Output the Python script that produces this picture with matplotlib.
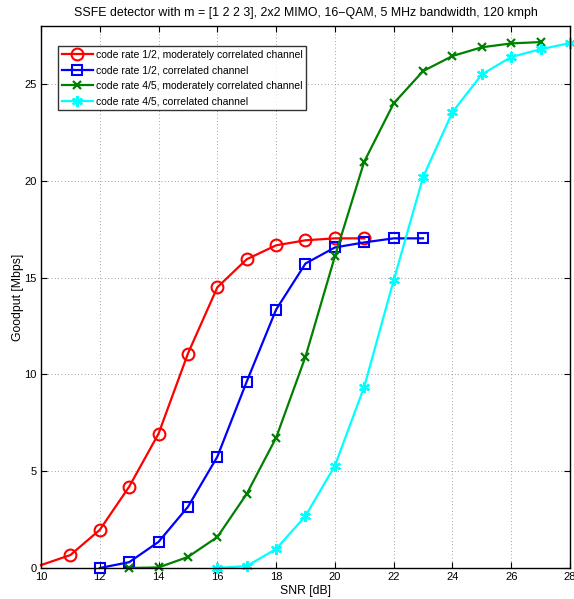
import numpy as np
import matplotlib
matplotlib.use("Agg")
import matplotlib.pyplot as plt

plt.rcParams['font.family'] = ['Liberation Sans', 'DejaVu Sans']

snr_r = [10, 11, 12, 13, 14, 15, 16, 17, 18, 19, 20, 21]
gp_r = [0.15, 0.67, 1.97, 4.2, 6.94, 11.08, 14.5, 15.95, 16.67, 16.93, 17.03, 17.03]

snr_b = [12, 13, 14, 15, 16, 17, 18, 19, 20, 21, 22, 23]
gp_b = [0.0, 0.3, 1.35, 3.16, 5.75, 9.63, 13.35, 15.73, 16.56, 16.82, 17.03, 17.03]

snr_g = [13, 14, 15, 16, 17, 18, 19, 20, 21, 22, 23, 24, 25, 26, 27]
gp_g = [0.0, 0.03, 0.57, 1.6, 3.83, 6.73, 10.92, 16.1, 21.0, 24.0, 25.67, 26.45, 26.9, 27.1, 27.17]

snr_c = [16, 17, 18, 19, 20, 21, 22, 23, 24, 25, 26, 27, 28]
gp_c = [0.0, 0.1, 0.98, 2.69, 5.28, 9.37, 14.86, 20.19, 23.55, 25.5, 26.4, 26.8, 27.12]

labels = ['code rate 1/2, moderately correlated channel',
          'code rate 1/2, correlated channel',
          'code rate 4/5, moderately correlated channel',
          'code rate 4/5, correlated channel']

fig = plt.figure(figsize=(5.74, 5.99), dpi=100)
ax = fig.add_axes([41/574, 31/599, 529/574, 542/599])

ax.plot(snr_r, gp_r, color='red', marker='o', ms=8.5, mfc='none', mew=1.5, lw=1.6,
        label=labels[0], clip_on=False, markevery=slice(1, None))
ax.plot(snr_b, gp_b, color='blue', marker='s', ms=7, mfc='none', mew=1.5, lw=1.6,
        label=labels[1], clip_on=False)
ax.plot(snr_g, gp_g, color='green', marker='x', ms=6, mew=1.6, lw=1.6,
        label=labels[2], clip_on=False)
ax.plot(snr_c, gp_c, color='cyan', marker=(6, 2, 0), ms=8, mew=1.6, lw=1.6,
        label=labels[3], clip_on=False)

ax.set_xlim(10, 28)
ax.set_ylim(0, 28)
ax.set_xticks(np.arange(10, 29, 2))
ax.set_yticks(np.arange(0, 26, 5))
ax.tick_params(direction='in', labelsize=8, length=4, top=True, right=True, pad=3)
ax.grid(True, linestyle=(0, (1, 3)), color='gray', lw=0.6)
for s in ax.spines.values():
    s.set_linewidth(1.0)

ax.set_xlabel('SNR [dB]', fontsize=8.8, labelpad=2)
ax.set_ylabel('Goodput [Mbps]', fontsize=8.8, labelpad=0)
ax.set_title('SSFE detector with m = [1 2 2 3], 2x2 MIMO, 16\u2212QAM, 5 MHz bandwidth, 120 kmph',
             fontsize=8.9, pad=7)

leg = ax.legend(loc='upper left', fontsize=7.5, frameon=True, fancybox=False, edgecolor='black',
                handlelength=3.0, borderpad=0.35, labelspacing=0.55, handletextpad=0.3,
                borderaxespad=0, bbox_to_anchor=(17/529, 1 - 20/542))
leg.get_frame().set_linewidth(1.0)

fig.savefig('out.png', dpi=100)
